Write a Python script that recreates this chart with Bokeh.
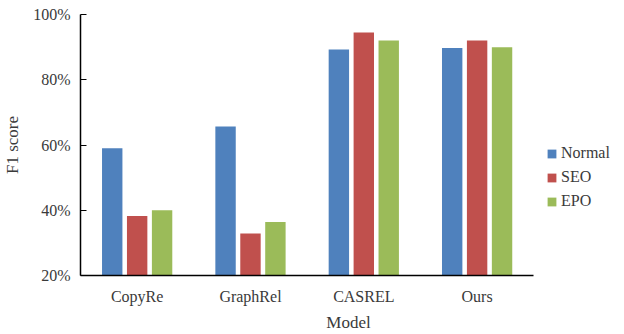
from bokeh.plotting import figure
from bokeh.models import ColumnDataSource, Range1d, PrintfTickFormatter, FixedTicker, Legend, LegendItem
from bokeh.embed import file_html
from bokeh.resources import INLINE

models = ["CopyRe", "GraphRel", "CASREL", "Ours"]
normal = [59.0, 65.7, 89.3, 89.7]
seo = [38.2, 32.9, 94.5, 92.0]
epo = [40.0, 36.4, 92.0, 90.0]
series = ["Normal", "SEO", "EPO"]
colors = ["#4F81BD", "#C0504D", "#9BBB59"]
y_ticks = [20, 40, 60, 80, 100]

n = len(models)
centers = [i + 0.5 for i in range(n)]
src = ColumnDataSource(dict(x=centers, Normal=normal, SEO=seo, EPO=epo))

FONT = "Liberation Serif"
TXT = "#3a3a3a"

p = figure(x_range=Range1d(0, 4.73), y_range=Range1d(20, 100),
           frame_width=536, frame_height=261, output_backend="svg", toolbar_location=None,
           min_border_left=72, min_border_right=0, min_border_top=14, min_border_bottom=40)
p.title = None
p.outline_line_color = None
p.xgrid.grid_line_color = None
p.ygrid.grid_line_color = None

offsets = [-0.22, 0.0, 0.22]
items = []
for s, c, off in zip(series, colors, offsets):
    src.data["x_" + s] = [x + off for x in centers]
    r = p.vbar(x="x_" + s, top=s, bottom=20, width=0.18,
               source=src, fill_color=c, line_color=None)
    items.append(LegendItem(label=s, renderers=[r]))

legend = Legend(items=items, location=(466, 64), padding=0, margin=0,
                glyph_width=11, glyph_height=11, label_standoff=4, spacing=4,
                label_height=20, border_line_alpha=0, background_fill_alpha=0,
                label_text_font=FONT, label_text_font_size="16px", label_text_color=TXT)
p.add_layout(legend)

p.yaxis.ticker = FixedTicker(ticks=y_ticks)
p.yaxis.formatter = PrintfTickFormatter(format="%d%%")
p.yaxis.major_tick_in = 6
p.yaxis.major_tick_out = 0
p.yaxis.minor_tick_line_color = None
p.yaxis.major_label_standoff = 10
p.yaxis.axis_label = "F1 score"
p.yaxis.axis_label_standoff = 8

p.xaxis.ticker = FixedTicker(ticks=centers)
p.xaxis.major_label_overrides = {c: m for c, m in zip(centers, models)}
p.xaxis.bounds = (0, n)
p.xaxis.major_tick_in = 0
p.xaxis.major_tick_out = 0
p.xaxis.minor_tick_line_color = None
p.xaxis.major_label_standoff = 12
p.xaxis.axis_label = "Model"
p.xaxis.axis_label_standoff = 5

for ax in (p.xaxis, p.yaxis):
    ax.axis_line_color = "black"
    ax.axis_line_width = 1.5
    ax.major_label_text_font = FONT
    ax.major_label_text_font_size = "16px"
    ax.major_label_text_color = TXT
    ax.axis_label_text_font = FONT
    ax.axis_label_text_font_size = "17px"
    ax.axis_label_text_font_style = "normal"
    ax.axis_label_text_color = TXT
p.yaxis.major_tick_line_color = "black"
p.xaxis.major_tick_line_color = None

open("out.html", "w").write(file_html(p, INLINE))
